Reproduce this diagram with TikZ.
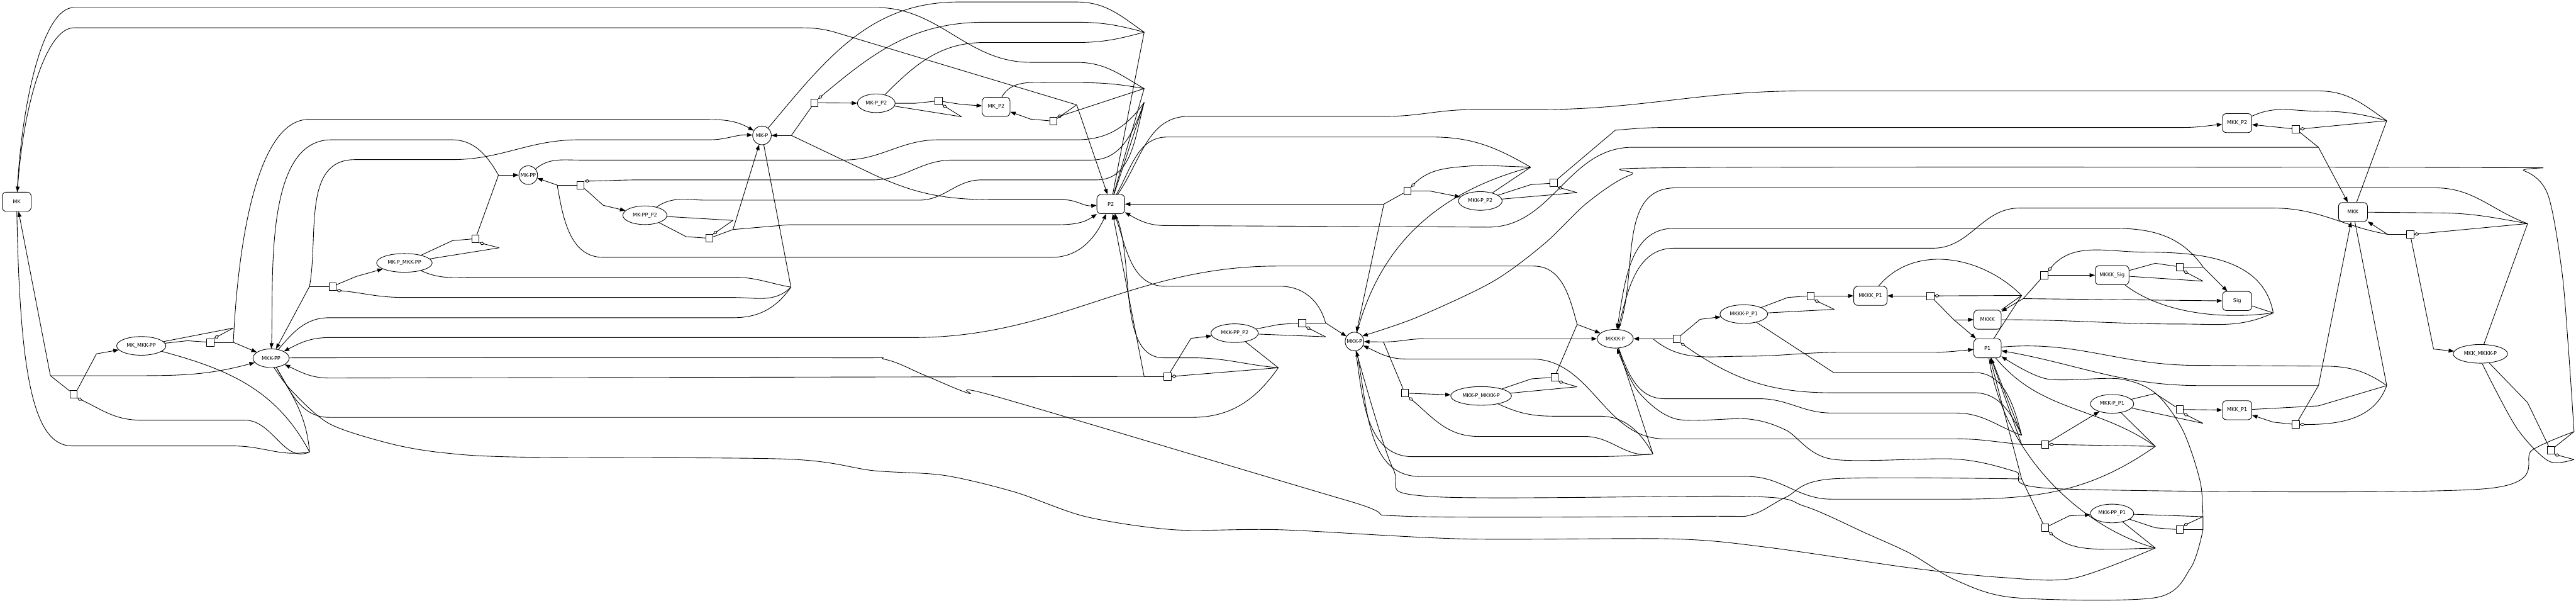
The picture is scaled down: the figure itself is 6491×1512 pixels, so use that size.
\documentclass[tikz,border=0pt]{standalone}
\usepackage{fontspec}
\setmainfont{DejaVu Sans}
\usetikzlibrary{shapes.geometric,arrows.meta}
\pgfdeclarelayer{bg}
\pgfsetlayers{bg,main}
\begin{document}
\begin{tikzpicture}[
        x=0.01cm, y=0.01cm,
        spec/.style={ellipse, draw, fill=white, line width=0.4pt, minimum height=0.47cm, inner sep=0pt, font=\fontsize{3.7}{4}\selectfont},
        spot/.style={spec, inner xsep=-1pt, minimum width=0.47cm},
        pool/.style={rectangle, rounded corners=0.1cm, draw, fill=white, line width=0.4pt, minimum height=0.48cm, inner sep=0pt, font=\fontsize{3.7}{4}\selectfont},
        rx/.style={rectangle, draw, fill=white, line width=0.4pt, minimum width=0.18cm, minimum height=0.19cm, inner sep=0pt},
        sub/.style={line width=0.4pt},
        pro/.style={-{Triangle[length=0.135cm, width=0.1cm]}, line width=0.4pt},
        mod/.style={{Diamond[open, length=0.14cm, width=0.085cm]}-, line width=0.4pt}
    ]
    \useasboundingbox (0,0) rectangle (6491,-1512);

    % species
    \node[pool, minimum width=0.73cm] (mk) at (42,-508) {MK};
    \node[spec, minimum width=1.24cm] (mkXmkkpp) at (356,-871) {MK\_MKK-PP};
    \node[spec, minimum width=0.91cm] (mkkpp) at (683,-902) {MKK-PP};
    \node[spec, minimum width=1.40cm] (mkpXmkkpp) at (1019,-662) {MK-P\_MKK-PP};
    \node[spot] (mkpp) at (1331,-441) {MK-PP};
    \node[spot] (mkp) at (1920,-341) {MK-P};
    \node[spec, minimum width=1.11cm] (mkppXp2) at (1625,-542) {MK-PP\_P2};
    \node[spec, minimum width=0.95cm] (mkpXp2) at (2208,-260) {MK-P\_P2};
    \node[pool, minimum width=0.70cm] (mkXp2) at (2510,-269) {MK\_P2};
    \node[pool, minimum width=0.70cm] (p2) at (2799,-514) {P2};
    \node[spec, minimum width=1.19cm] (mkkppXp2) at (3111,-839) {MKK-PP\_P2};
    \node[spot] (mkkp) at (3413,-860) {MKK-P};
    \node[spec, minimum width=1.10cm] (mkkpXp2) at (3730,-506) {MKK-P\_P2};
    \node[spec, minimum width=1.53cm] (mkkpXmkkkp) at (3732,-997) {MKK-P\_MKKK-P};
    \node[spec, minimum width=0.91cm] (mkkkp) at (4070,-853) {MKKK-P};
    \node[spec, minimum width=1.20cm] (mkkkpXp1) at (4394,-791) {MKKK-P\_P1};
    \node[pool, minimum width=0.84cm] (mkkkXp1) at (4713,-745) {MKKK\_P1};
    \node[pool, minimum width=0.85cm] (mkkkXsig) at (5322,-693) {MKKK\_Sig};
    \node[pool, minimum width=0.74cm] (sig) at (5637,-758) {Sig};
    \node[pool, minimum width=0.69cm] (mkkk) at (5008,-805) {MKKK};
    \node[pool, minimum width=0.69cm] (p1) at (5008,-877) {P1};
    \node[pool, minimum width=0.74cm] (mkkXp2) at (5637,-310) {MKK\_P2};
    \node[pool, minimum width=0.73cm] (mkk) at (5929,-534) {MKK};
    \node[spec, minimum width=1.09cm] (mkkpXp1) at (5322,-1017) {MKK-P\_P1};
    \node[pool, minimum width=0.74cm] (mkkXp1) at (5637,-1033) {MKK\_P1};
    \node[spec, minimum width=1.09cm] (mkkppXp1) at (5322,-1293) {MKK-PP\_P1};
    \node[spec, minimum width=1.37cm] (mkkXmkkkp) at (6250,-891) {MKK\_MKKK-P};

    % reactions
    \node[rx] (r1) at (185,-992) {};
    \node[rx] (r2) at (530,-862) {};
    \node[rx] (r3) at (838,-721) {};
    \node[rx] (r4) at (1198,-601) {};
    \node[rx] (r5) at (1463,-466) {};
    \node[rx] (r6) at (1787,-600) {};
    \node[rx] (r7) at (2052,-259) {};
    \node[rx] (r8) at (2365,-254) {};
    \node[rx] (r9) at (2654,-305) {};
    \node[rx] (r10) at (2942,-948) {};
    \node[rx] (r11) at (3281,-813) {};
    \node[rx] (r12) at (3540,-990) {};
    \node[rx] (r13) at (3546,-481) {};
    \node[rx] (r14) at (3915,-461) {};
    \node[rx] (r15) at (3917,-950) {};
    \node[rx] (r16) at (4225,-853) {};
    \node[rx] (r17) at (4562,-745) {};
    \node[rx] (r18) at (4864,-745) {};
    \node[rx] (r19) at (5151,-693) {};
    \node[rx] (r20) at (5492,-672) {};
    \node[rx] (r21) at (5785,-325) {};
    \node[rx] (r22) at (6073,-590) {};
    \node[rx] (r23) at (5153,-1119) {};
    \node[rx] (r24) at (5492,-1031) {};
    \node[rx] (r25) at (5785,-1069) {};
    \node[rx] (r26) at (5153,-1329) {};
    \node[rx] (r27) at (5492,-1334) {};
    \node[rx] (r28) at (6427,-1134) {};

    % product forks
    \coordinate (j1) at (127,-946);
    \coordinate (j2) at (588,-862);
    \coordinate (j3) at (780,-721);
    \coordinate (j4) at (1256,-441);
    \coordinate (j5) at (1404,-466);
    \coordinate (j6) at (1847,-578);
    \coordinate (j7) at (1994,-341);
    \coordinate (j9) at (2713,-264);
    \coordinate (j10) at (2883,-948);
    \coordinate (j11) at (3340,-813);
    \coordinate (j12) at (3486,-861);
    \coordinate (j13) at (3487,-514);
    \coordinate (j15) at (3974,-817);
    \coordinate (j16) at (4165,-853);
    \coordinate (j18) at (4923,-805);
    \coordinate (j19) at (5098,-752);
    \coordinate (j20) at (5551,-672);
    \coordinate (j21) at (5842,-371);
    \coordinate (j22) at (6016,-590);
    \coordinate (j23) at (5094,-1119);
    \coordinate (j25) at (5842,-971);
    \coordinate (j26) at (5094,-1206);
    \coordinate (j27) at (5551,-1334);
    \coordinate (j28) at (6486,-1087);

    % diamond forks
    \coordinate (f1) at (780,-1138);
    \coordinate (f2) at (588,-826);
    \coordinate (f3) at (1993,-723);
    \coordinate (f4) at (1258,-624);
    \coordinate (f5) at (2883,-258);
    \coordinate (f6) at (1847,-555);
    \coordinate (f7) at (2883,-81);
    \coordinate (f8) at (2423,-294);
    \coordinate (f9) at (2883,-223);
    \coordinate (f10) at (3221,-926);
    \coordinate (f11) at (3340,-848);
    \coordinate (f12) at (4165,-1143);
    \coordinate (f13) at (3857,-421);
    \coordinate (f14) at (3974,-485);
    \coordinate (f15) at (3974,-974);
    \coordinate (f16) at (5094,-1096);
    \coordinate (f17) at (4622,-779);
    \coordinate (f18) at (5094,-744);
    \coordinate (f19) at (5728,-788);
    \coordinate (f20) at (5551,-708);
    \coordinate (f21) at (6014,-304);
    \coordinate (f22) at (6369,-563);
    \coordinate (f23) at (5431,-1124);
    \coordinate (f24) at (5551,-1066);
    \coordinate (f25) at (6014,-971);
    \coordinate (f26) at (5431,-1380);
    \coordinate (f27) at (5551,-1301);
    \coordinate (f28) at (6486,-1157);

    \begin{pgfonlayer}{bg}
    % MK phosphorylation
    \draw[sub] (r1) -- (j1);
    \draw[pro] (r1.north east) -- (243,-891) -- (mkXmkkpp);
    \draw[pro] (j1) -- (mk);
    \draw[pro] (j1) -- (354,-946) to[out=0,in=195] (mkkpp);
    \draw[mod] (r1.south east) to[out=-25,in=180] (355,-1058) -- (617,-1058) to[out=0,in=205] (f1);
    \draw[sub] (mk) .. controls (50,-950) and (85,-1123) .. (182,-1123) -- (589,-1123) to[out=0,in=190] (f1);
    \draw[sub] (mkXmkkpp) to[out=-15,in=118] (f1);
    \draw[sub] (mkkpp) to[out=-60,in=95] (f1);

    \draw[sub] (mkXmkkpp) -- (472,-858) -- (r2);
    \draw[sub] (r2) -- (j2);
    \draw[pro] (j2) -- (mkkpp);
    \draw[pro] (j2) .. controls (600,-600) and (650,-310) .. (772,-301) -- (1788,-301) to[out=0,in=150] (mkp);
    \draw[mod] (r2.north east) -- (f2);
    \draw[sub] (f2) -- (mkXmkkpp);

    \draw[pro] (r3) -- (898,-696) -- (mkpXmkkpp);
    \draw[sub] (r3) -- (j3);
    \draw[pro] (j3) -- (mkkpp);
    \draw[pro] (j3) to[out=80,in=180] (894,-402) -- (1138,-402) to[out=0,in=180] (1459,-352) -- (1788,-352) to[out=0,in=178] (mkp);
    \draw[mod] (r3.south east) to[out=-5,in=180] (1017,-749) -- (1848,-749) to[out=0,in=225] (f3);
    \draw[sub] (mkp) -- (f3);
    \draw[sub] (mkpXmkkpp) to[out=-25,in=180] (1199,-698) -- (1848,-698) to[out=0,in=170] (f3);
    \draw[sub] (f3) to[out=235,in=0] (1848,-800) -- (830,-800) to[out=180,in=50] (mkkpp);

    \draw[sub] (mkpXmkkpp) -- (1140,-606) -- (r4);
    \draw[sub] (r4) -- (j4);
    \draw[pro] (j4) -- (mkpp);
    \draw[pro] (j4) to[out=120,in=0] (1138,-352) -- (835,-352) to[out=180,in=88,looseness=0.8] (mkkpp);
    \draw[mod] (r4.south east) -- (f4);
    \draw[sub] (f4) -- (mkpXmkkpp);

    % MK dephosphorylation by P2
    \draw[pro] (r5) -- (1520,-517) -- (mkppXp2);
    \draw[sub] (r5) -- (j5);
    \draw[pro] (j5) -- (mkpp);
    \draw[pro] (j5) to[out=-80,in=180] (1520,-648) -- (2650,-648) to[out=0,in=245] (p2);
    \draw[mod] (r5.north east) to[out=0,in=180] (1612,-453) -- (2200,-453) to[out=0,in=180] (2400,-403) -- (2750,-403) to[out=0,in=250] (f5);
    \draw[sub] (mkpp) to[out=40,in=180] (1459,-403) -- (2125,-403) to[out=0,in=180] (2365,-352) -- (2713,-352) to[out=0,in=235] (f5);
    \draw[sub] (mkppXp2) to[out=35,in=180] (1780,-504) -- (2316,-504) to[out=0,in=180] (2473,-453) -- (2763,-453) to[out=0,in=255] (f5);
    \draw[sub] (f5) -- (p2);

    \draw[sub] (mkppXp2) -- (1729,-596) -- (r6);
    \draw[sub] (r6) -- (j6);
    \draw[pro] (j6) -- (mkp);
    \draw[pro] (j6) -- (1987,-566) -- (2655,-566) to[out=0,in=215] (p2);
    \draw[mod] (r6.north east) -- (f6);
    \draw[sub] (f6) -- (mkppXp2);

    \draw[pro] (r7) -- (mkpXp2);
    \draw[sub] (r7) -- (j7);
    \draw[pro] (j7) -- (mkp);
    \draw[pro] (j7) -- (2200,-439) to[out=-25,in=180] (2515,-503) -- (2680,-503) to[out=0,in=185] (p2);
    \draw[mod] (r7.north east) to[out=40,in=180] (2481,-56) -- (2713,-56) to[out=0,in=165] (f7);
    \draw[sub] (mkp) to[out=50,in=180] (2415,-5) -- (2713,-5) to[out=0,in=145] (f7);
    \draw[sub] (mkpXp2) to[out=45,in=180] (2481,-107) -- (2713,-107) to[out=0,in=195] (f7);
    \draw[sub] (f7) -- (p2);

    \draw[sub] (mkpXp2) -- (2307,-260) -- (r8);
    \draw[pro] (r8) -- (2423,-263) -- (mkXp2);
    \draw[mod] (r8.south east) -- (f8);
    \draw[sub] (f8) -- (mkpXp2);

    \draw[pro] (r9) -- (2597,-300) -- (mkXp2);
    \draw[sub] (r9) -- (j9);
    \draw[pro] (j9) -- (p2);
    \draw[pro] (j9) -- (2100,-80) to[out=165,in=0] (1990,-70) -- (186,-70) .. controls (120,-70) and (60,-250) .. (mk);
    \draw[mod] (r9.north east) -- (f9);
    \draw[sub] (f9) -- (p2);
    \draw[sub] (mkXp2) to[out=60,in=180] (2647,-208) -- (2713,-208) to[out=0,in=170] (f9);
    \draw[sub] (mk) .. controls (55,-250) and (110,-19) .. (186,-19) -- (2208,-19) to[out=0,in=180] (2597,-157) -- (2713,-157) to[out=0,in=150] (f9);

    % MKK dephosphorylation by P2
    \draw[pro] (r10) -- (3001,-852) -- (mkkppXp2);
    \draw[sub] (r10) -- (j10);
    \draw[pro] (j10) -- (p2);
    \draw[pro] (j10) -- (830,-952) to[out=180,in=-25] (mkkpp);
    \draw[mod] (r10.east) -- (f10);
    \draw[sub] (mkkppXp2) -- (f10);
    \draw[sub] (f10) to[out=175,in=0] (3004,-901) -- (2932,-901) to[out=180,in=-65,looseness=0.8] (p2);
    \draw[sub] (f10) to[out=235,in=0] (3004,-1051) -- (830,-1051) to[out=180,in=-60] (mkkpp);

    \draw[sub] (mkkppXp2) -- (3223,-817) -- (r11);
    \draw[sub] (r11) -- (j11);
    \draw[pro] (j11) -- (mkkp);
    \draw[pro] (j11) to[out=105,in=0] (3227,-721) -- (2937,-721) to[out=180,in=-70] (p2);
    \draw[mod] (r11.south east) -- (f11);
    \draw[sub] (f11) -- (mkkppXp2);

    \draw[pro] (r13) -- (3603,-481) -- (mkkpXp2);
    \draw[sub] (r13) -- (j13);
    \draw[pro] (j13) -- (p2);
    \draw[pro] (j13) -- (mkkp);
    \draw[mod] (r13.north east) to[out=45,in=185] (3730,-416) -- (f13);
    \draw[sub] (mkkpXp2) -- (f13);
    \draw[sub] (f13) to[out=150,in=0] (3606,-345) -- (2942,-345) to[out=180,in=60] (p2);
    \draw[sub] (f13) to[out=195,in=75] (mkkp);

    \draw[sub] (mkkpXp2) -- (3857,-465) -- (r14);
    \draw[pro] (r14.north east) -- (4070,-328) to[out=5,in=180] (4200,-321) -- (5500,-321) to[out=0,in=185] (mkkXp2);
    \draw[mod] (r14.south east) -- (f14);
    \draw[sub] (f14) -- (mkkpXp2);

    \draw[pro] (r21) -- (mkkXp2);
    \draw[sub] (r21) -- (j21);
    \draw[pro] (j21) -- (mkk);
    \draw[pro] (j21) -- (4113,-371) to[out=180,in=0] (3750,-572) -- (2937,-568) to[out=180,in=-30] (p2);
    \draw[mod] (r21.east) -- (f21);
    \draw[sub] (mkkXp2) to[out=25,in=180] (5842,-280) to[out=0,in=165] (f21);
    \draw[sub] (mkk) -- (f21);
    \draw[sub] (f21) to[out=145,in=0] (5842,-229) -- (4544,-229) to[out=180,in=0] (3874,-276) -- (3711,-276) to[out=180,in=0] (3491,-293) -- (2995,-293) to[out=180,in=55] (p2);

    % MKK phosphorylation by MKKK-P
    \draw[pro] (r12) -- (mkkpXmkkkp);
    \draw[sub] (r12) -- (j12);
    \draw[pro] (j12) -- (mkkp);
    \draw[pro] (j12) to[out=0,in=180] (3591,-853) -- (mkkkp);
    \draw[mod] (r12.south east) to[out=-40,in=180] (3725,-1099) -- (3993,-1099) to[out=0,in=190] (f12);
    \draw[sub] (mkkpXmkkkp) to[out=-25,in=180] (3917,-1048) -- (4031,-1048) to[out=0,in=120] (f12);
    \draw[sub] (mkkkp) -- (f12);
    \draw[sub] (mkkp) to[out=-82,in=180] (3560,-1150) -- (3974,-1150) to[out=0,in=185] (f12);

    \draw[sub] (mkkpXmkkkp) -- (3859,-954) -- (r15);
    \draw[sub] (r15) -- (j15);
    \draw[pro] (j15) -- (mkkkp);
    \draw[pro] (j15) to[out=105,in=0] (3864,-670) -- (3219,-670) to[out=180,in=0] (2300,-850) -- (830,-850) to[out=180,in=28] (mkkpp);
    \draw[mod] (r15.south east) -- (f15);
    \draw[sub] (f15) -- (mkkpXmkkkp);

    \draw[pro] (r22) -- (6132,-879) -- (mkkXmkkkp);
    \draw[sub] (r22) -- (j22);
    \draw[pro] (j22) -- (mkk);
    \draw[pro] (j22) to[out=170,in=0] (5728,-524) -- (5088,-524) to[out=180,in=0] (4871,-625) -- (4218,-625) to[out=180,in=75] (mkkkp);
    \draw[mod] (r22.east) -- (f22);
    \draw[sub] (mkk) -- (6136,-536) to[out=0,in=170] (f22);
    \draw[sub] (f22) -- (mkkXmkkkp);
    \draw[sub] (f22) to[out=160,in=0] (6136,-473) -- (4223,-473) to[out=180,in=70] (mkkkp);

    \draw[sub] (mkkXmkkkp) -- (6369,-1014) -- (r28);
    \draw[sub] (r28) -- (j28);
    \draw[pro] plot[smooth] coordinates {(j28) (6381,-1133) (6259,-1231) (5191,-1231) (5077,-1187) (4928,-1156) (4615,-1156) (4500,-1083) (4404,-1055) (4223,-1055) (4127,-985) (mkkkp.-80)};
    \draw[pro] plot[smooth] coordinates {(j28) (6472,-880) (6455,-680) (6420,-490) (6360,-430) (6250,-422) (4250,-422) (4110,-440) (4000,-510) (3890,-615) (3760,-710) (3568,-800) (mkkp.35)};
    \draw[mod] (r28.south east) -- (f28);
    \draw[sub] plot[smooth] coordinates {(f28) (6422,-1161) (6341,-1077) (mkkXmkkkp.-80)};

    % MKKK activation and P1
    \draw[pro] (r16) -- (4284,-804) -- (mkkkpXp1);
    \draw[sub] (r16) -- (j16);
    \draw[pro] (j16) -- (mkkkp);
    \draw[pro] (j16) to[out=-40,in=180] (4395,-897) to[out=0,in=180] (4644,-887) -- (4871,-887) to[out=0,in=185] (p1);
    \draw[mod] (r16.south east) to[out=-35,in=180] (4615,-989) -- (4974,-989) to[out=0,in=115] (f16);
    \draw[sub] (mkkkpXp1) -- (4620,-938) -- (4974,-938) to[out=0,in=105] (f16);
    \draw[sub] (mkkkp) to[out=-70,in=180] (4194,-1004) -- (4433,-1004) to[out=0,in=180] (4615,-1040) -- (4928,-1040) to[out=0,in=160] (f16);
    \draw[sub] (f16) -- (p1);

    \draw[sub] (mkkkpXp1) -- (4505,-749) -- (r17);
    \draw[pro] (r17) -- (mkkkXp1);
    \draw[mod] (r17.south east) -- (f17);
    \draw[sub] (f17) -- (mkkkpXp1);

    \draw[pro] (r18) -- (mkkkXp1);
    \draw[sub] (r18) -- (j18);
    \draw[pro] (j18) -- (mkkk);
    \draw[pro] (j18) -- (p1);
    \draw[mod] (r18.east) -- (f18);
    \draw[sub] (f18) -- (mkkk);
    \draw[sub] (f18) -- (p1);
    \draw[sub] (mkkkXp1) to[out=50,in=135] (f18);

    \draw[pro] (r19) -- (mkkkXsig);
    \draw[sub] (r19) -- (j19);
    \draw[pro] (j19) -- (mkkk);
    \draw[pro] (j19) -- (sig);
    \draw[mod] (r19.north east) to[out=50,in=180] (5408,-635) to[out=0,in=100] (f19);
    \draw[sub] (sig) -- (f19);
    \draw[sub] (mkkk) to[out=0,in=180] (5500,-816) to[out=0,in=205] (f19);
    \draw[sub] (mkkkXsig) .. controls (5450,-790) and (5600,-805) .. (f19);

    \draw[sub] (mkkkXsig) -- (5431,-663) -- (r20);
    \draw[sub] (r20) -- (j20);
    \draw[pro] (j20) -- (sig);
    \draw[pro] (j20) to[out=125,in=0] (5328,-575) -- (4218,-575) to[out=180,in=80] (mkkkp);
    \draw[mod] (r20.south east) -- (f20);
    \draw[sub] (f20) -- (mkkkXsig);

    % MKK dephosphorylation by P1
    \draw[pro] (r23) -- (mkkpXp1);
    \draw[sub] (r23) -- (j23);
    \draw[pro] (j23) -- (p1);
    \draw[pro] (j23) to[out=175,in=0] (4928,-1105) -- (4194,-1105) to[out=180,in=0] (3859,-904) -- (3543,-904) to[out=180,in=-25] (mkkp);
    \draw[mod] (r23.east) -- (f23);
    \draw[sub] (mkkpXp1) -- (f23);
    \draw[sub] (f23) to[out=145,in=-50] (p1);
    \draw[sub] (f23) to[out=215,in=0] (4928,-1257) -- (4615,-1257) to[out=180,in=0] (4404,-1200) -- (3580,-1200) to[out=180,in=-78] (mkkp);

    \draw[sub] (mkkpXp1) -- (5431,-991) -- (r24);
    \draw[pro] (r24) -- (mkkXp1);
    \draw[mod] (r24.south east) -- (f24);
    \draw[sub] (f24) -- (mkkpXp1);

    \draw[pro] (r25) -- (5728,-1063) -- (mkkXp1);
    \draw[sub] (r25) -- (j25);
    \draw[pro] (j25) -- (mkk);
    \draw[pro] (j25) -- (5545,-971) to[out=180,in=-10] (p1);
    \draw[mod] (r25.east) to[out=0,in=-110] (f25);
    \draw[sub] (mkkXp1) -- (5842,-1022) -- (f25);
    \draw[sub] (mkk) -- (f25);
    \draw[sub] (f25) to[out=145,in=0] (5854,-922) -- (5534,-920) to[out=180,in=5] (p1);

    \draw[pro] (r26) -- (5214,-1299) -- (mkkppXp1);
    \draw[sub] (r26) -- (j26);
    \draw[pro] (j26) -- (p1);
    \draw[pro] plot[smooth] coordinates {(j26) (4615,-1206) (4500,-1252) (4414,-1296) (4300,-1300) (3543,-1300) (3400,-1262) (2512,-999) (2440,-990) (2330,-945) (2230,-905) (2100,-901) (830,-901) (mkkpp.east)};
    \draw[mod] (r26.south east) to[out=-40,in=180] (5341,-1383) -- (f26);
    \draw[sub] (mkkppXp1) -- (f26);
    \draw[sub] (p1) .. controls (5050,-1150) and (5250,-1330) .. (f26);
    \draw[sub] plot[smooth] coordinates {(f26) (5225,-1456) (5043,-1454) (4814,-1430) (4452,-1378) (4213,-1357) (3687,-1357) (3227,-1334) (2959,-1334) (2736,-1301) (2557,-1239) (2379,-1197) (2200,-1185) (1982,-1156) (1312,-1151) (1116,-1140) (983,-1117) (830,-1067) (734,-983) (mkkpp.-72)};

    \draw[sub] (mkkppXp1) -- (5431,-1329) -- (r27);
    \draw[sub] (r27) -- (j27);
    \draw[pro] plot[smooth] coordinates {(j27) (5545,-1218) (5500,-1083) (5431,-990) (5340,-954) (5157,-954) (p1.-30)};
    \draw[pro] plot[smooth] coordinates {(j27) (5520,-1430) (5431,-1505) (5077,-1505) (4928,-1461) (4814,-1394) (4700,-1342) (4548,-1275) (4404,-1250) (3600,-1250) (3510,-1180) (mkkp.-80)};
    \draw[mod] (r27.north east) -- (f27);
    \draw[sub] (f27) -- (mkkppXp1);
    \end{pgfonlayer}

\end{tikzpicture}
\end{document}
